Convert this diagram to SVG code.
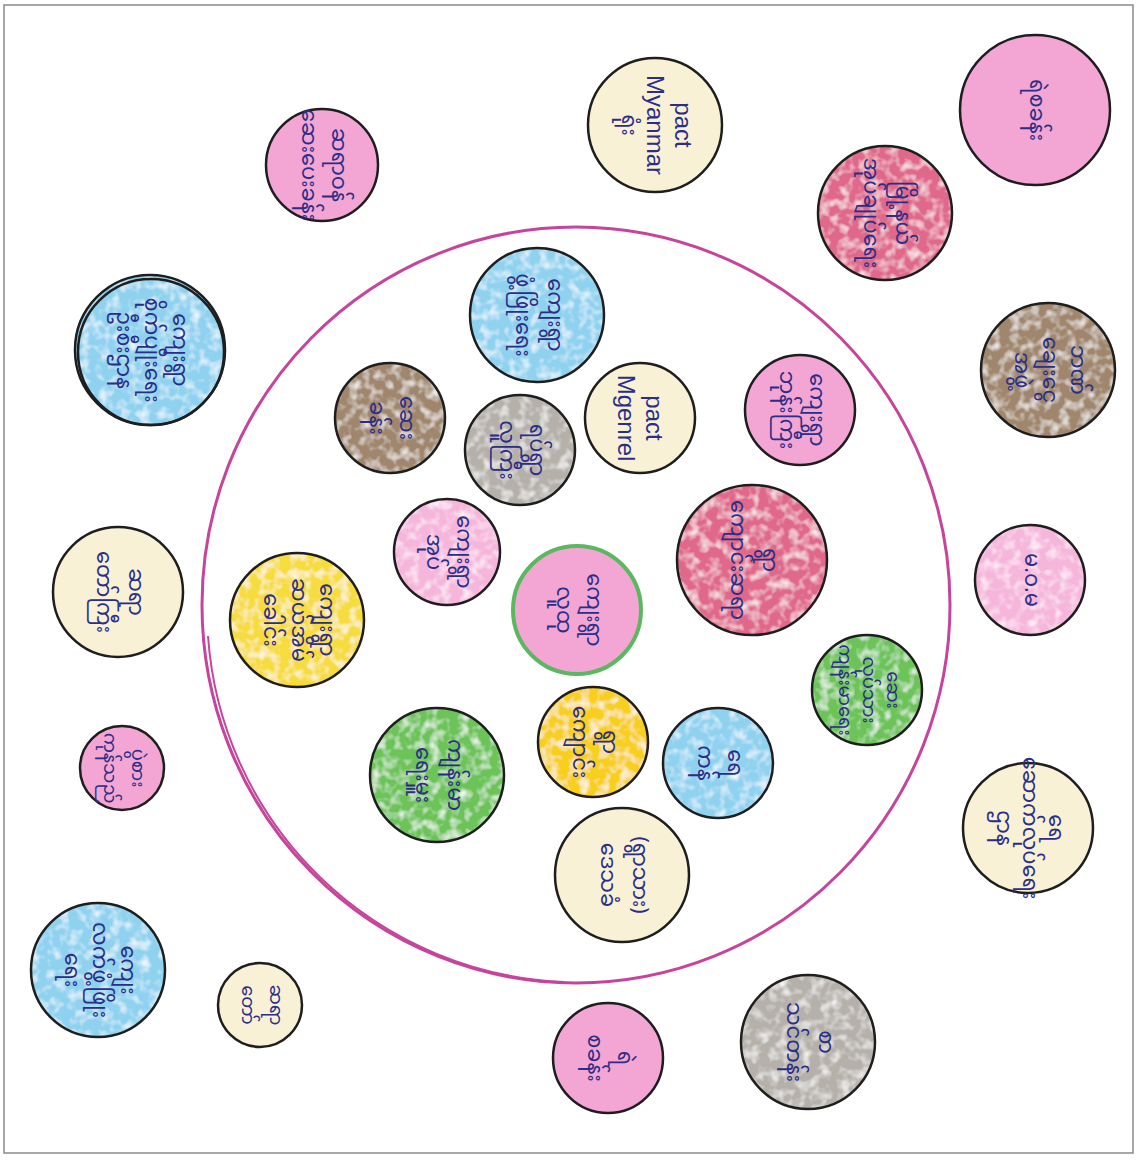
<svg xmlns="http://www.w3.org/2000/svg" width="1138" height="1165" viewBox="0 0 1138 1165">
<defs>
<filter id="tex" x="-5%" y="-5%" width="110%" height="110%">
<feTurbulence type="fractalNoise" baseFrequency="0.1" numOctaves="2" seed="4" result="n"/>
<feColorMatrix in="n" type="matrix" values="0 0 0 0 1  0 0 0 0 1  0 0 0 0 1  0 0 0 -1.8 1.0" result="w"/>
<feComposite in="w" in2="SourceAlpha" operator="in" result="wc"/>
<feMerge><feMergeNode in="SourceGraphic"/><feMergeNode in="wc"/></feMerge>
</filter>
<style>
.ring{fill:none;stroke:#1e1e1e;stroke-width:2.5}
.cream{fill:#f8f1d6}
.pink{fill:#f3a6d4}
.lpink{fill:#f6b6dc}
.red{fill:#e0688a}
.blue{fill:#8ed2f0}
.brown{fill:#a0866c}
.gray{fill:#b5b1aa}
.yellow{fill:#f7dc3c}
.gold{fill:#f8cf1c}
.green{fill:#6cc458}
.t{font-family:"Noto Sans Myanmar","Padauk","Myanmar Text","Noto Sans",sans-serif;font-size:21px;fill:#2b2e86;text-anchor:middle;dominant-baseline:central}
.l{font-family:"Liberation Sans",sans-serif;font-size:24px;fill:#2b2e86;text-anchor:middle;dominant-baseline:central}
</style>
</defs>
<rect x="0" y="0" width="1138" height="1165" fill="#ffffff"/>
<rect x="4" y="5" width="1129" height="1148" fill="none" stroke="#8a8a8a" stroke-width="1.5"/>

<g id="boundary">
<ellipse cx="576" cy="605" rx="374" ry="378" fill="none" stroke="#c6449c" stroke-width="3"/>
<path d="M 204 640 A 372 372 0 0 0 560 986" fill="none" stroke="#c6449c" stroke-width="2" transform="translate(4,-4)"/>
</g>

<g id="n1"><circle cx="655" cy="125" r="67" class="cream"/><circle cx="655" cy="125" r="67" class="ring"/>
<g transform="translate(655,125) rotate(90)"><text class="l" y="-28">pact</text><text class="l" y="0">Myanmar</text><text class="t" y="28">ရုံး</text></g></g>

<g id="n2"><circle cx="1035" cy="110" r="75" class="pink"/><circle cx="1035" cy="110" r="75" class="ring"/>
<g transform="translate(1035,110) rotate(90)"><text class="t" y="0">ရဲစခန်း</text></g></g>

<g id="n3"><circle cx="885" cy="213" r="67" class="red" filter="url(#tex)"/><circle cx="885" cy="213" r="67" class="ring"/>
<g transform="translate(885,213) rotate(90)"><text class="t" y="-16">မြို့နယ်</text><text class="t" y="16">အုပ်ချုပ်ရေး</text></g></g>

<g id="n4"><circle cx="322" cy="165" r="56" class="pink"/><circle cx="322" cy="165" r="56" class="ring"/>
<g transform="translate(322,165) rotate(90)"><text class="t" y="-15">ဆရာဝန်</text><text class="t" y="15">ဆေးပေးခန်း</text></g></g>

<g id="n5"><circle cx="150" cy="350" r="75" class="blue" filter="url(#tex)"/><circle cx="150" cy="350" r="75" class="ring"/><circle cx="151" cy="352" r="73" class="ring" stroke-width="1.5"/>
<g transform="translate(150,350) rotate(90)"><text class="t" y="-28">ကျေးရွာ</text><text class="t" y="0">စိုက်ပျိုးရေး</text><text class="t" y="28">ဦးစီးဌာန</text></g></g>

<g id="n6"><circle cx="1048" cy="370" r="67" class="brown" filter="url(#tex)"/><circle cx="1048" cy="370" r="67" class="ring"/>
<g transform="translate(1048,370) rotate(90)"><text class="t" y="-28">ဘဏ်</text><text class="t" y="0">ချေးငွေ</text><text class="t" y="28">အဖွဲ့</text></g></g>

<g id="n7"><circle cx="118" cy="592" r="65" class="cream"/><circle cx="118" cy="592" r="65" class="ring"/>
<g transform="translate(118,592) rotate(90)"><text class="t" y="-16">ဆရာ</text><text class="t" y="16">တော်ကြီး</text></g></g>

<g id="n8"><circle cx="1030" cy="580" r="55" class="lpink" filter="url(#tex)"/><circle cx="1030" cy="580" r="55" class="ring"/>
<g transform="translate(1030,580) rotate(90)"><text class="t" y="0">မ.ဝ.မ</text></g></g>

<g id="n9"><circle cx="122" cy="768" r="42" class="pink"/><circle cx="122" cy="768" r="42" class="ring"/>
<g transform="translate(122,768) rotate(90)"><text class="t" y="-14" style="font-size:18px">ပွဲစား</text><text class="t" y="14" style="font-size:18px">ကုန်သည်</text></g></g>

<g id="n10"><circle cx="1028" cy="828" r="65" class="cream"/><circle cx="1028" cy="828" r="65" class="ring"/>
<g transform="translate(1028,828) rotate(90)"><text class="t" y="-26">ရေ</text><text class="t" y="0">ဆောက်လုပ်ရေး</text><text class="t" y="26">ဌာန</text></g></g>

<g id="n11"><circle cx="98" cy="970" r="67" class="blue" filter="url(#tex)"/><circle cx="98" cy="970" r="67" class="ring"/>
<g transform="translate(98,970) rotate(90)"><text class="t" y="-28">ကျေး</text><text class="t" y="0">လက်ဖွံ့ဖြိုး</text><text class="t" y="28">ရေး</text></g></g>

<g id="n12"><circle cx="260" cy="1005" r="42" class="cream"/><circle cx="260" cy="1005" r="42" class="ring"/>
<g transform="translate(260,1005) rotate(90)"><text class="t" y="-14" style="font-size:18px">ဆရာ</text><text class="t" y="14" style="font-size:18px">တော်</text></g></g>

<g id="n13"><circle cx="608" cy="1058" r="55" class="pink"/><circle cx="608" cy="1058" r="55" class="ring"/>
<g transform="translate(608,1058) rotate(90)"><text class="t" y="-15">ရဲ</text><text class="t" y="15">စခန်း</text></g></g>

<g id="n14"><circle cx="808" cy="1042" r="67" class="gray" filter="url(#tex)"/><circle cx="808" cy="1042" r="67" class="ring"/>
<g transform="translate(808,1042) rotate(90)"><text class="t" y="-16">စာ</text><text class="t" y="16">သင်တန်း</text></g></g>

<g id="n15"><circle cx="537" cy="315" r="67" class="blue" filter="url(#tex)"/><circle cx="537" cy="315" r="67" class="ring"/>
<g transform="translate(537,315) rotate(90)"><text class="t" y="-16">ကျေးရွာ</text><text class="t" y="16">ဖွံ့ဖြိုးရေး</text></g></g>

<g id="n16"><circle cx="390" cy="418" r="55" class="brown" filter="url(#tex)"/><circle cx="390" cy="418" r="55" class="ring"/>
<g transform="translate(390,418) rotate(90)"><text class="t" y="-15">ဆေး</text><text class="t" y="15">ခန်း</text></g></g>

<g id="n17"><circle cx="520" cy="450" r="55" class="gray" filter="url(#tex)"/><circle cx="520" cy="450" r="55" class="ring"/>
<g transform="translate(520,450) rotate(90)"><text class="t" y="-15">ရပ်ရွာ</text><text class="t" y="15">လူကြီး</text></g></g>

<g id="n18"><circle cx="640" cy="418" r="55" class="cream"/><circle cx="640" cy="418" r="55" class="ring"/>
<g transform="translate(640,418) rotate(90)"><text class="l" y="-14">pact</text><text class="l" y="14">Mgenrel</text></g></g>

<g id="n19"><circle cx="800" cy="410" r="55" class="pink"/><circle cx="800" cy="410" r="55" class="ring"/>
<g transform="translate(800,410) rotate(90)"><text class="t" y="-15">ကျေးရွာ</text><text class="t" y="15">ဘုန်းကြီး</text></g></g>

<g id="n20"><circle cx="447" cy="552" r="53" class="lpink" filter="url(#tex)"/><circle cx="447" cy="552" r="53" class="ring"/>
<g transform="translate(447,552) rotate(90)"><text class="t" y="-15">ကျေးရွာ</text><text class="t" y="15">အုပ်</text></g></g>

<g id="n21"><circle cx="577" cy="610" r="64" class="pink"/><circle cx="577" cy="610" r="64" fill="none" stroke="#5cb860" stroke-width="4"/>
<g transform="translate(577,610) rotate(90)"><text class="t" y="-15">ကျေးရွာ</text><text class="t" y="15">လူထု</text></g></g>

<g id="n22"><circle cx="752" cy="560" r="75" class="red" filter="url(#tex)"/><circle cx="752" cy="560" r="75" class="ring"/>
<g transform="translate(752,560) rotate(90)"><text class="t" y="-16">ရွာ</text><text class="t" y="16">ကျောင်းဆရာ</text></g></g>

<g id="n23"><circle cx="297" cy="620" r="67" class="yellow" filter="url(#tex)"/><circle cx="297" cy="620" r="67" class="ring"/>
<g transform="translate(297,620) rotate(90)"><text class="t" y="-28">ကျေးရွာ</text><text class="t" y="0">ဆယ်အိမ်</text><text class="t" y="28">ခေါင်း</text></g></g>

<g id="n24"><circle cx="867" cy="690" r="55" class="green" filter="url(#tex)"/><circle cx="867" cy="690" r="55" class="ring"/>
<g transform="translate(867,690) rotate(90)"><text class="t" y="-24" style="font-size:18px">ဆေး</text><text class="t" y="0" style="font-size:18px">လုပ်သား</text><text class="t" y="24" style="font-size:18px">ကျန်းမာရေး</text></g></g>

<g id="n25"><circle cx="437" cy="775" r="67" class="green" filter="url(#tex)"/><circle cx="437" cy="775" r="67" class="ring"/>
<g transform="translate(437,775) rotate(90)"><text class="t" y="-16">ကျန်းမာ</text><text class="t" y="16">ရေးမှူး</text></g></g>

<g id="n26"><circle cx="593" cy="742" r="55" class="gold" filter="url(#tex)"/><circle cx="593" cy="742" r="55" class="ring"/>
<g transform="translate(593,742) rotate(90)"><text class="t" y="-15">ရွာ</text><text class="t" y="15">ကျောင်း</text></g></g>

<g id="n27"><circle cx="718" cy="763" r="55" class="blue" filter="url(#tex)"/><circle cx="718" cy="763" r="55" class="ring"/>
<g transform="translate(718,763) rotate(90)"><text class="t" y="-15">ရေ</text><text class="t" y="15">ကန်</text></g></g>

<g id="n28"><circle cx="622" cy="875" r="67" class="cream"/><circle cx="622" cy="875" r="67" class="ring"/>
<g transform="translate(622,875) rotate(90)"><text class="t" y="-16">(ရွာသား)</text><text class="t" y="16">ဒေသခံ</text></g></g>
</svg>
